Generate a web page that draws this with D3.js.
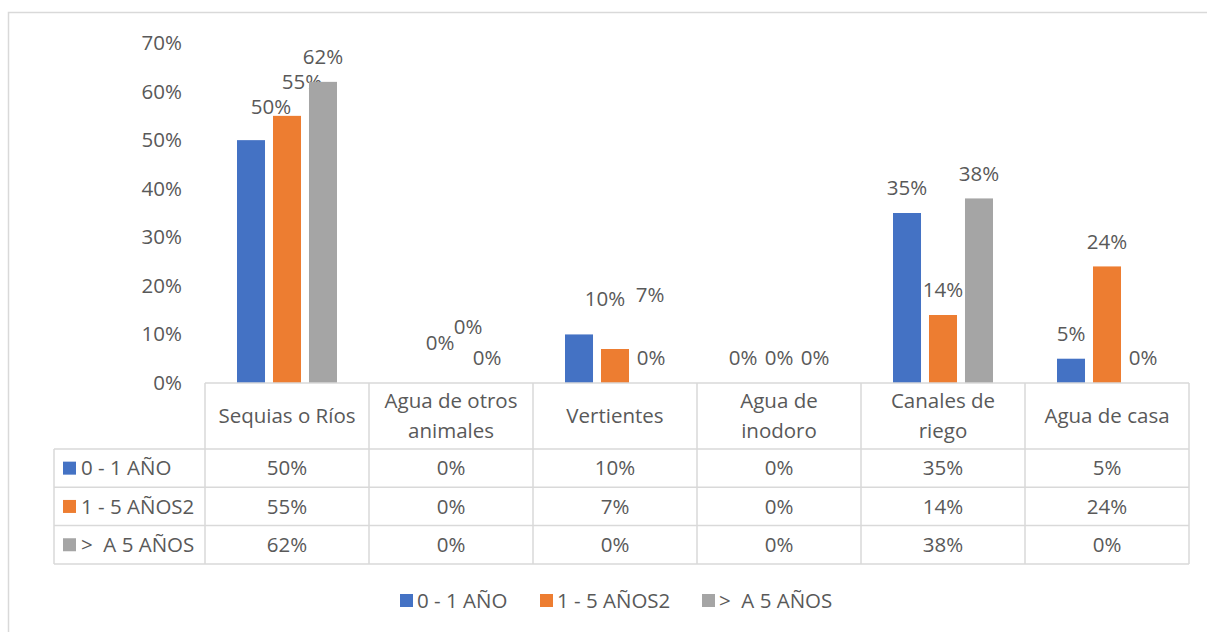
<!DOCTYPE html>
<html>
<head>
<meta charset="utf-8">
<script src="https://cdn.jsdelivr.net/npm/d3@7"></script>
<style>
  body { margin: 0; background: #fff; }
  text { font-family: "Open Sans", sans-serif; fill: #595959; white-space: pre; }
</style>
</head>
<body>
<div id="grafico"></div>
<script>
// datos
const categorias = ["Sequias o Ríos", "Agua de otros animales", "Vertientes", "Agua de inodoro", "Canales de riego", "Agua de casa"];
const lineasCategoria = [["Sequias o Ríos"], ["Agua de otros", "animales"], ["Vertientes"], ["Agua de", "inodoro"], ["Canales de", "riego"], ["Agua de casa"]];
const series = ["0 - 1 AÑO", "1 - 5 AÑOS2", ">  A 5 AÑOS"];
const valores0a1 = [0.50, 0.00, 0.10, 0.00, 0.35, 0.05];
const valores1a5 = [0.55, 0.00, 0.07, 0.00, 0.14, 0.24];
const valoresMas5 = [0.62, 0.00, 0.00, 0.00, 0.38, 0.00];
const ticksY = [0, 0.1, 0.2, 0.3, 0.4, 0.5, 0.6, 0.7];
const colores = ["#4472C4", "#ED7D31", "#A5A5A5"];

// etiquetas movidas a mano en el original (dx, dy en px)
const ajusteEtiquetas = [
    [[20, -8], [25, -15], [26, -11], [0, 0], [0, 0], [0, 0]],
    [[15, -9], [17, -31], [35, -29], [0, 0], [0, 0], [0, 0]],
    [[0, 0], [0, 0], [0, 0], [0, 0], [0, 0], [0, 0]]
];

const valores = [valores0a1, valores1a5, valoresMas5];
const fmt = d3.format(".0%");
const tamLetra = "20.5px";

const W = 1207, H = 632;
const izq = 205, der = 1189, arriba = 43, base = 383;
const filaCat = 449, altoFila = 38.3, izqTabla = 54;

const svg = d3.select("#grafico").append("svg")
    .attr("width", W).attr("height", H);

// marco exterior
svg.append("rect")
    .attr("x", 8.5).attr("y", 12.5)
    .attr("width", W + 10).attr("height", H + 10)
    .attr("fill", "none").attr("stroke", "#D9D9D9").attr("stroke-width", 1.5);

// escalas
const x0 = d3.scaleBand().domain(categorias).range([izq, der]).padding(0);
const x1 = d3.scaleBand().domain(series).range([0, x0.bandwidth()])
    .paddingInner(0.222).paddingOuter(0.889);
const y = d3.scaleLinear().domain([0, 0.7]).range([base, arriba]);

// eje Y (solo etiquetas)
const yAxis = d3.axisLeft(y).tickValues(ticksY).tickFormat(fmt).tickSize(0).tickPadding(0);
const gY = svg.append("g")
    .attr("transform", "translate(182,0)")
    .call(yAxis);
gY.select(".domain").remove();
gY.selectAll("text")
    .style("font-family", "Open Sans, sans-serif")
    .style("font-size", tamLetra)
    .attr("fill", "#595959");

// barras
const grupos = svg.selectAll(".serie")
    .data(series)
    .enter().append("g")
    .attr("class", "serie");

grupos.each(function(s, i) {
    const g = d3.select(this);
    g.selectAll("rect")
        .data(valores[i])
        .enter().append("rect")
        .attr("x", (d, j) => x0(categorias[j]) + x1(s))
        .attr("width", x1.bandwidth())
        .attr("y", d => y(d))
        .attr("height", d => base - y(d))
        .attr("fill", colores[i]);

    g.selectAll("text")
        .data(valores[i])
        .enter().append("text")
        .attr("x", (d, j) => x0(categorias[j]) + x1(s) + x1.bandwidth() / 2 + ajusteEtiquetas[i][j][0])
        .attr("y", (d, j) => y(d) - 25 + ajusteEtiquetas[i][j][1])
        .attr("dy", "0.35em")
        .attr("text-anchor", "middle")
        .style("font-size", tamLetra)
        .text(d => fmt(d));
});

// tabla de datos
const lineaColor = "#D9D9D9";
const tabla = svg.append("g").attr("stroke", lineaColor).attr("stroke-width", 1.5);
const yFilas = [base, filaCat, filaCat + altoFila, filaCat + 2 * altoFila, filaCat + 3 * altoFila];

// horizontales
tabla.append("line").attr("x1", izq).attr("x2", der).attr("y1", base).attr("y2", base);
yFilas.slice(1).forEach(yy => {
    tabla.append("line").attr("x1", izqTabla).attr("x2", der).attr("y1", yy).attr("y2", yy);
});
// verticales
categorias.forEach(c => {
    tabla.append("line").attr("x1", x0(c)).attr("x2", x0(c)).attr("y1", base).attr("y2", yFilas[4]);
});
tabla.append("line").attr("x1", der).attr("x2", der).attr("y1", base).attr("y2", yFilas[4]);
tabla.append("line").attr("x1", izqTabla).attr("x2", izqTabla).attr("y1", filaCat).attr("y2", yFilas[4]);

// textos de categorias
categorias.forEach((c, j) => {
    const lineas = lineasCategoria[j];
    const cy = (base + filaCat) / 2;
    const t = svg.append("text")
        .attr("text-anchor", "middle")
        .style("font-size", tamLetra);
    lineas.forEach((l, k) => {
        t.append("tspan")
            .attr("x", x0(c) + x0.bandwidth() / 2)
            .attr("y", cy + (k - (lineas.length - 1) / 2) * 30)
            .attr("dy", "0.35em")
            .text(l);
    });
});

// filas de valores
series.forEach((s, i) => {
    const cy = filaCat + altoFila * (i + 0.5);
    svg.append("rect")
        .attr("x", 63).attr("y", cy - 6.5)
        .attr("width", 13).attr("height", 13)
        .attr("fill", colores[i]);
    svg.append("text")
        .attr("x", 81).attr("y", cy).attr("dy", "0.35em")
        .style("font-size", tamLetra)
        .text(s);
    valores[i].forEach((v, j) => {
        svg.append("text")
            .attr("x", x0(categorias[j]) + x0.bandwidth() / 2)
            .attr("y", cy).attr("dy", "0.35em")
            .attr("text-anchor", "middle")
            .style("font-size", tamLetra)
            .text(fmt(v));
    });
});

// leyenda
const leyendaX = [400, 540, 702];
const leyenda = svg.append("g");
series.forEach((s, i) => {
    leyenda.append("rect")
        .attr("x", leyendaX[i]).attr("y", 594)
        .attr("width", 13).attr("height", 13)
        .attr("fill", colores[i]);
    leyenda.append("text")
        .attr("x", leyendaX[i] + 17).attr("y", 600.5).attr("dy", "0.35em")
        .style("font-size", tamLetra)
        .text(s);
});
</script>
</body>
</html>
